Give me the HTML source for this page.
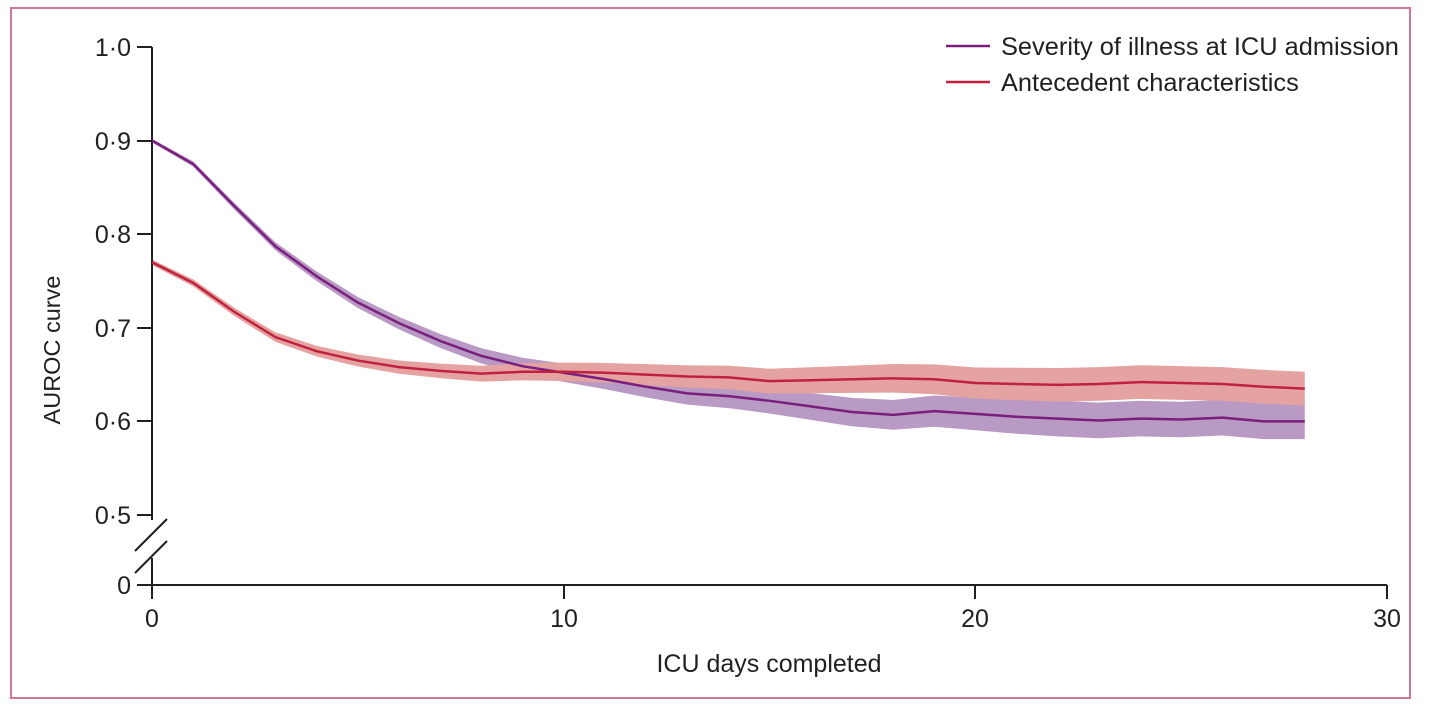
<!DOCTYPE html>
<html><head><meta charset="utf-8"><style>
html,body{margin:0;padding:0;background:#fff;}
svg{display:block;}
text{font-family:"Liberation Sans",sans-serif;fill:#231f20;}
</style></head><body>
<svg id="s" width="1440" height="712" viewBox="0 0 1440 712" xmlns="http://www.w3.org/2000/svg">
<rect x="11" y="8" width="1399" height="690" fill="none" stroke="#d1769a" stroke-width="2"/>
<g id="bands"></g>
<g stroke="#231f20" stroke-width="2" fill="none">
<line x1="152" y1="47" x2="152" y2="520"/>
<line x1="152" y1="558" x2="152" y2="599"/>
<line x1="152" y1="585" x2="1387" y2="585"/>
<line x1="137" y1="47" x2="152" y2="47"/>
<line x1="137" y1="141" x2="152" y2="141"/>
<line x1="137" y1="234" x2="152" y2="234"/>
<line x1="137" y1="328" x2="152" y2="328"/>
<line x1="137" y1="421" x2="152" y2="421"/>
<line x1="137" y1="515" x2="152" y2="515"/>
<line x1="137" y1="585" x2="152" y2="585"/>
<line x1="564" y1="585" x2="564" y2="599"/>
<line x1="975" y1="585" x2="975" y2="599"/>
<line x1="1387" y1="585" x2="1387" y2="599"/>
<line x1="135" y1="551" x2="167" y2="519"/>
<line x1="135" y1="573" x2="167" y2="541"/>
</g>
<g font-size="25" text-anchor="end">
<text x="131" y="56">1·0</text>
<text x="131" y="150">0·9</text>
<text x="131" y="243">0·8</text>
<text x="131" y="337">0·7</text>
<text x="131" y="430">0·6</text>
<text x="131" y="524">0·5</text>
<text x="131" y="594">0</text>
</g>
<g font-size="25" text-anchor="middle">
<text x="152" y="627">0</text>
<text x="564" y="627">10</text>
<text x="975" y="627">20</text>
<text x="1387" y="627">30</text>
<text x="769" y="672">ICU days completed</text>
<text font-size="23.5" transform="translate(60,350) rotate(-90)">AUROC curve</text>
</g>
<line x1="946" y1="46" x2="990" y2="46" stroke="#7b1f7e" stroke-width="2.5"/>
<line x1="946" y1="82" x2="990" y2="82" stroke="#c0213f" stroke-width="2.5"/>
<g font-size="25.4"><text x="1001" y="55">Severity of illness at ICU admission</text>
<text x="1001" y="91">Antecedent characteristics</text></g>
<g id="lines"></g>
</svg>
<script>
var P=[0.900,0.875,0.83,0.787,0.755,0.727,0.705,0.686,0.670,0.659,0.652,0.645,0.637,0.630,0.627,0.622,0.616,0.610,0.607,0.611,0.608,0.605,0.603,0.601,0.603,0.602,0.604,0.600,0.600];
var A=[0.770,0.748,0.717,0.690,0.675,0.665,0.658,0.654,0.651,0.653,0.653,0.652,0.650,0.648,0.647,0.643,0.644,0.645,0.646,0.645,0.641,0.640,0.639,0.640,0.642,0.641,0.640,0.637,0.635];
function X(d){return 152+d*41.17;}function Y(v){return 47+(1-v)*936;}
function band(a,col,w0,w1){var up=[],dn=[];for(var i=0;i<a.length;i++){var w=w0+(w1-w0)*Math.min(1,i/22);up.push(X(i)+","+Y(a[i]+w));dn.unshift(X(i)+","+Y(a[i]-w));}
return '<polygon points="'+up.concat(dn).join(" ")+'" fill="'+col+'"/>';}
function line(a,col){var p=[];for(var i=0;i<a.length;i++)p.push(X(i)+","+Y(a[i]));return '<polyline points="'+p.join(" ")+'" fill="none" stroke="'+col+'" stroke-width="2.5"/>';}
document.getElementById("bands").innerHTML=band(P,"#b99ac4",0.002,0.019)+band(A,"#e4a3a0",0.003,0.018);
document.getElementById("lines").innerHTML=line(P,"#7b1f7e")+line(A,"#c0213f");
</script>
</body></html>
